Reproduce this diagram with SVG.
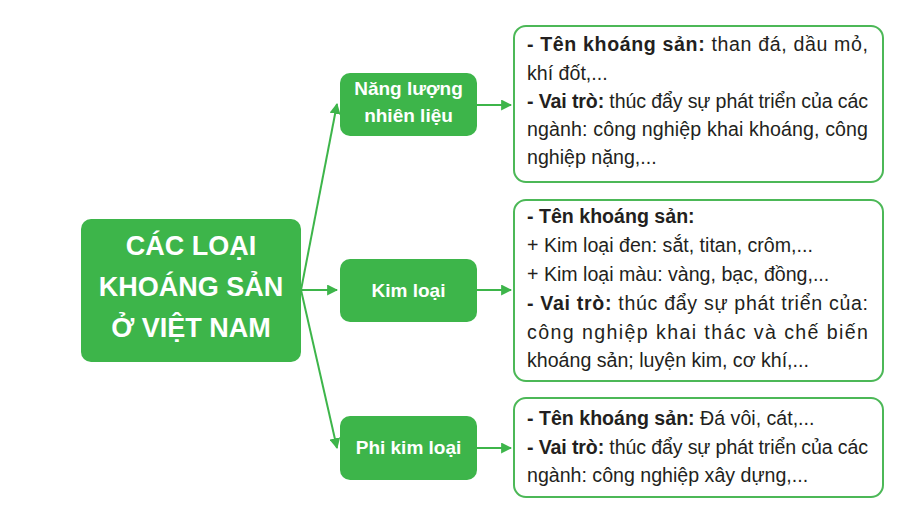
<svg xmlns="http://www.w3.org/2000/svg" width="912" height="517" viewBox="0 0 912 517">
<defs>
<style>
.fill{fill:#3db54a;}
.tbox{fill:#ffffff;stroke:#4cb857;stroke-width:2;}
.conn{stroke:#3db54a;stroke-width:2;fill:none;}
.title{font-family:"Liberation Sans",Arial,sans-serif;font-weight:bold;font-size:27px;fill:#ffffff;text-anchor:middle;}
.ntext{font-family:"Liberation Sans",Arial,sans-serif;font-weight:bold;font-size:19px;fill:#ffffff;text-anchor:middle;}
.body{font-family:"Liberation Sans",Arial,sans-serif;font-size:19.6px;fill:#231f20;}
.b{font-weight:bold;}
</style>
<marker id="arr" viewBox="0 0 10 10" refX="9" refY="5" markerWidth="5.5" markerHeight="5.5" orient="auto" markerUnits="strokeWidth">
<path d="M0,0 L10,5 L0,10 Z" fill="#3db54a"/>
</marker>
</defs>
<rect width="912" height="517" fill="#ffffff"/>

<g id="connectors">
<line class="conn" x1="301" y1="290" x2="337" y2="104" marker-end="url(#arr)"/>
<line class="conn" x1="301" y1="290" x2="337" y2="290" marker-end="url(#arr)"/>
<line class="conn" x1="301" y1="290" x2="337" y2="448" marker-end="url(#arr)"/>
<line class="conn" x1="477" y1="105" x2="511" y2="105" marker-end="url(#arr)"/>
<line class="conn" x1="477" y1="290" x2="511" y2="290" marker-end="url(#arr)"/>
<line class="conn" x1="477" y1="448" x2="511" y2="448" marker-end="url(#arr)"/>
</g>

<g id="main">
<rect class="fill" x="81" y="219" width="220" height="143" rx="10"/>
<text class="title" x="191" y="255">CÁC LOẠI</text>
<text class="title" x="191" y="296">KHOÁNG SẢN</text>
<text class="title" x="191" y="337">Ở VIỆT NAM</text>
</g>

<g id="node-nang-luong">
<rect class="fill" x="340" y="73" width="137" height="63" rx="10"/>
<text class="ntext" x="408.5" y="95">Năng lượng</text>
<text class="ntext" x="408.5" y="122">nhiên liệu</text>
</g>

<g id="node-kim-loai">
<rect class="fill" x="340" y="259" width="137" height="63" rx="10"/>
<text class="ntext" x="408.5" y="297">Kim loại</text>
</g>

<g id="node-phi-kim-loai">
<rect class="fill" x="340" y="416" width="137" height="64" rx="10"/>
<text class="ntext" x="408.5" y="454">Phi kim loại</text>
</g>

<g id="box-nang-luong">
<rect class="tbox" x="514" y="26" width="369" height="156" rx="12"/>
<text class="body" x="527" y="51" textLength="341" lengthAdjust="spacing"><tspan class="b">- Tên khoáng sản:</tspan> than đá, dầu mỏ,</text>
<text class="body" x="527" y="80">khí đốt,...</text>
<text class="body" x="527" y="108" textLength="341" lengthAdjust="spacing"><tspan class="b">- Vai trò:</tspan> thúc đẩy sự phát triển của các</text>
<text class="body" x="527" y="136" textLength="341" lengthAdjust="spacing">ngành: công nghiệp khai khoáng, công</text>
<text class="body" x="527" y="164">nghiệp nặng,...</text>
</g>

<g id="box-kim-loai">
<rect class="tbox" x="514" y="200" width="369" height="181" rx="12"/>
<text class="body" x="527" y="223"><tspan class="b">- Tên khoáng sản:</tspan></text>
<text class="body" x="527" y="252">+ Kim loại đen: sắt, titan, crôm,...</text>
<text class="body" x="527" y="281">+ Kim loại màu: vàng, bạc, đồng,...</text>
<text class="body" x="527" y="310" textLength="341" lengthAdjust="spacing"><tspan class="b">- Vai trò:</tspan> thúc đẩy sự phát triển của:</text>
<text class="body" x="527" y="339" textLength="341" lengthAdjust="spacing">công nghiệp khai thác và chế biến</text>
<text class="body" x="527" y="367">khoáng sản; luyện kim, cơ khí,...</text>
</g>

<g id="box-phi-kim-loai">
<rect class="tbox" x="514" y="398" width="369" height="99" rx="12"/>
<text class="body" x="527" y="425"><tspan class="b">- Tên khoáng sản:</tspan> Đá vôi, cát,...</text>
<text class="body" x="527" y="454" textLength="341" lengthAdjust="spacing"><tspan class="b">- Vai trò:</tspan> thúc đẩy sự phát triển của các</text>
<text class="body" x="527" y="482">ngành: công nghiệp xây dựng,...</text>
</g>
</svg>
